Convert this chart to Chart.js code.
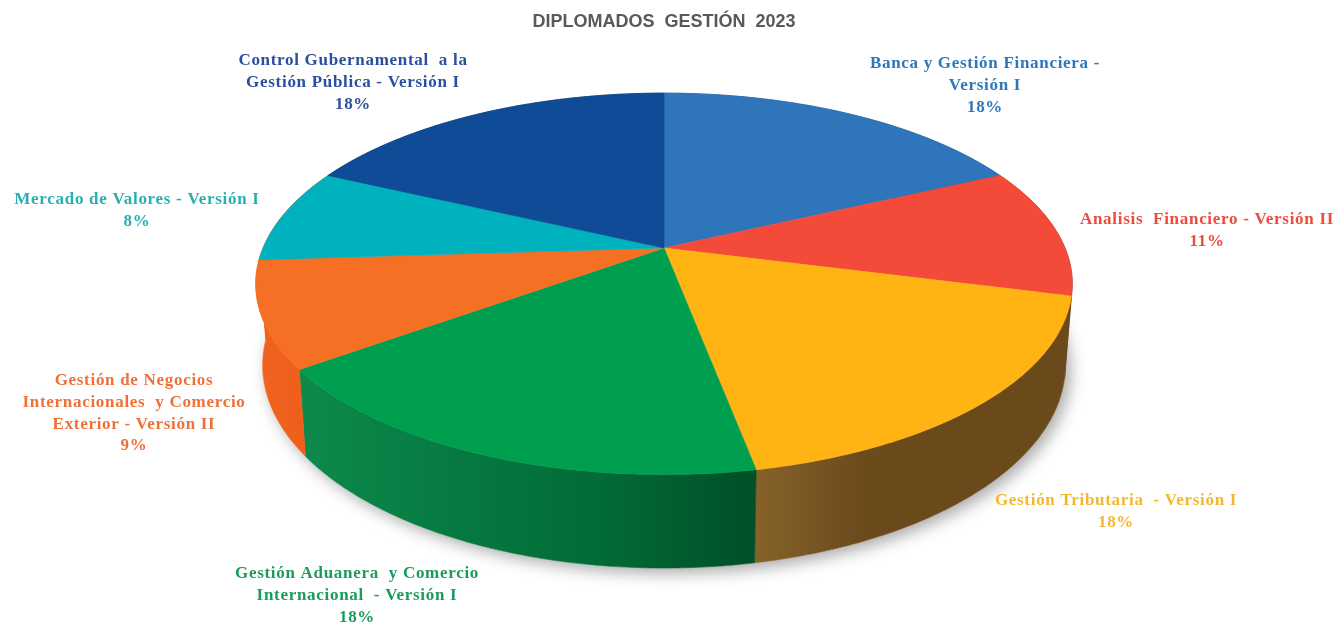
<!DOCTYPE html>
<html lang="es">
<head>
<meta charset="utf-8">
<title>Diplomados Gestión 2023</title>
<script src="https://cdn.jsdelivr.net/npm/chart.js@4/dist/chart.umd.min.js"></script>
<style>
  html, body { margin: 0; padding: 0; background: #fff; overflow: hidden; }
  #pie3d { display: block; filter: blur(0.4px); }
</style>
</head>
<body>
<canvas id="pie3d" width="1337" height="623"></canvas>
<script>
// ========== data ==========
const chartTitle = 'DIPLOMADOS  GESTIÓN  2023'
const categories = [
  'Banca y Gestión Financiera - Versión I',
  'Analisis Financiero - Versión II',
  'Gestión Tributaria - Versión I',
  'Gestión Aduanera y Comercio Internacional - Versión I',
  'Gestión de Negocios Internacionales y Comercio Exterior - Versión II',
  'Mercado de Valores - Versión I',
  'Control Gubernamental a la Gestión Pública - Versión I'
]
const shares = [18, 11, 18, 18, 9, 8, 18]
const labelLines = [
  ['Banca y Gestión Financiera -', 'Versión I'],
  ['Analisis  Financiero - Versión II'],
  ['Gestión Tributaria  - Versión I'],
  ['Gestión Aduanera  y Comercio', 'Internacional  - Versión I'],
  ['Gestión de Negocios', 'Internacionales  y Comercio', 'Exterior - Versión II'],
  ['Mercado de Valores - Versión I'],
  ['Control Gubernamental  a la', 'Gestión Pública - Versión I']
]

// ========== styles ==========
const topColors = ['#2e75b9', '#f44a3a', '#ffb414', '#009f4f', '#f57025', '#00b2bd', '#0f4b96']
const textColors = ['#2f76bb', '#ee4b3b', '#f2b92e', '#1a9c5c', '#ef7038', '#2aaeb2', '#2a4f9f']
const wallStops = [
  ['#1f5080', '#1f5080'],
  ['#a52a20', '#8e2018'],
  ['#87622a', '#6b4a1c', '#6a491b', '#6a491b'],
  ['#0c8a4b', '#067a41', '#026a35', '#004f28'],
  ['#f0641f', '#ee5f1c'],
  ['#ee5f1c', '#ee5f1c'], // the start of this wall only peeks out under the orange one
  ['#0a3468', '#0a3468']
]
// label anchor: centre x, first baseline y
const labelPos = [[985, 68], [1207, 224], [1116, 505], [357, 578], [134, 385], [137, 204], [353, 65]]

// ========== pie projection (circle seen in perspective) ==========
const view = { cx: 664, cy: 248, sx: 401, sy: 184, k: 0.188, depth: 79, shrink: 0.983 }

function rim(angle, low) {
  const u = Math.cos(angle)
  const v = Math.sin(angle)
  const d = 1 - view.k * v
  const s = low ? view.shrink : 1
  return {
    x: view.cx + s * view.sx * u / d,
    y: view.cy + (s * view.sy * v + (low ? view.depth : 0)) / d
  }
}

function traceRim(ctx, from, to, low) {
  const n = Math.max(2, Math.ceil(Math.abs(to - from) / 0.01))
  for (let i = 0; i <= n; i++) {
    const p = rim(from + (to - from) * i / n, low)
    ctx.lineTo(p.x, p.y)
  }
}

const pie3dPlugin = {
  id: 'pie3d',
  beforeDatasetsDraw(chart) {
    const ctx = chart.ctx
    const arcs = chart.getDatasetMeta(0).data

    // soft shadow under the base
    ctx.save()
    ctx.shadowColor = 'rgba(0,0,0,0.34)'
    ctx.shadowBlur = 16
    ctx.shadowOffsetX = 5
    ctx.shadowOffsetY = 5
    ctx.fillStyle = '#fff'
    ctx.beginPath()
    traceRim(ctx, 0, Math.PI * 2, true)
    ctx.closePath()
    ctx.fill()
    ctx.restore()

    // side walls
    arcs.forEach((arc, i) => {
      const a0 = arc.startAngle
      const a1 = arc.endAngle
      const x0 = rim(a0, false).x
      const x1 = rim(a1, false).x
      const grad = ctx.createLinearGradient(Math.min(x0, x1), 0, Math.max(x0, x1), 0)
      const stops = wallStops[i]
      stops.forEach((c, j) => grad.addColorStop(j / (stops.length - 1), c))
      ctx.beginPath()
      traceRim(ctx, a0, a1, false)
      traceRim(ctx, a1, a0, true)
      ctx.closePath()
      ctx.fillStyle = grad
      ctx.strokeStyle = grad
      ctx.lineWidth = 0.6
      ctx.fill()
      ctx.stroke()
    })

    // top face
    arcs.forEach((arc, i) => {
      ctx.beginPath()
      ctx.moveTo(view.cx, view.cy)
      traceRim(ctx, arc.startAngle, arc.endAngle, false)
      ctx.closePath()
      ctx.fillStyle = topColors[i]
      ctx.strokeStyle = topColors[i]
      ctx.lineWidth = 0.6
      ctx.fill()
      ctx.stroke()
    })
    return false
  },
  afterDraw(chart) {
    const ctx = chart.ctx
    ctx.save()
    ctx.font = 'bold 17px "Liberation Serif", serif'
    ctx.textAlign = 'center'
    ctx.textBaseline = 'alphabetic'
    ctx.letterSpacing = '0.7px'
    labelLines.forEach((lines, i) => {
      ctx.fillStyle = textColors[i]
      const all = lines.concat(shares[i] + '%')
      all.forEach((line, j) => {
        ctx.fillText(line, labelPos[i][0], labelPos[i][1] + j * 21.8)
      })
    })
    ctx.restore()
  }
}

// ========== chart ==========
new Chart(document.getElementById('pie3d'), {
  type: 'pie',
  data: {
    labels: categories,
    datasets: [{ data: shares, backgroundColor: topColors, borderWidth: 0 }]
  },
  options: {
    responsive: false,
    animation: false,
    events: [],
    layout: { padding: { right: 9 } },
    plugins: {
      legend: { display: false },
      tooltip: { enabled: false },
      title: {
        display: true,
        text: chartTitle,
        color: '#595959',
        font: { family: '"Liberation Sans", Arial, sans-serif', size: 18, weight: 'bold' },
        padding: { top: 11, bottom: 10 }
      }
    }
  },
  plugins: [pie3dPlugin]
})
</script>
</body>
</html>
